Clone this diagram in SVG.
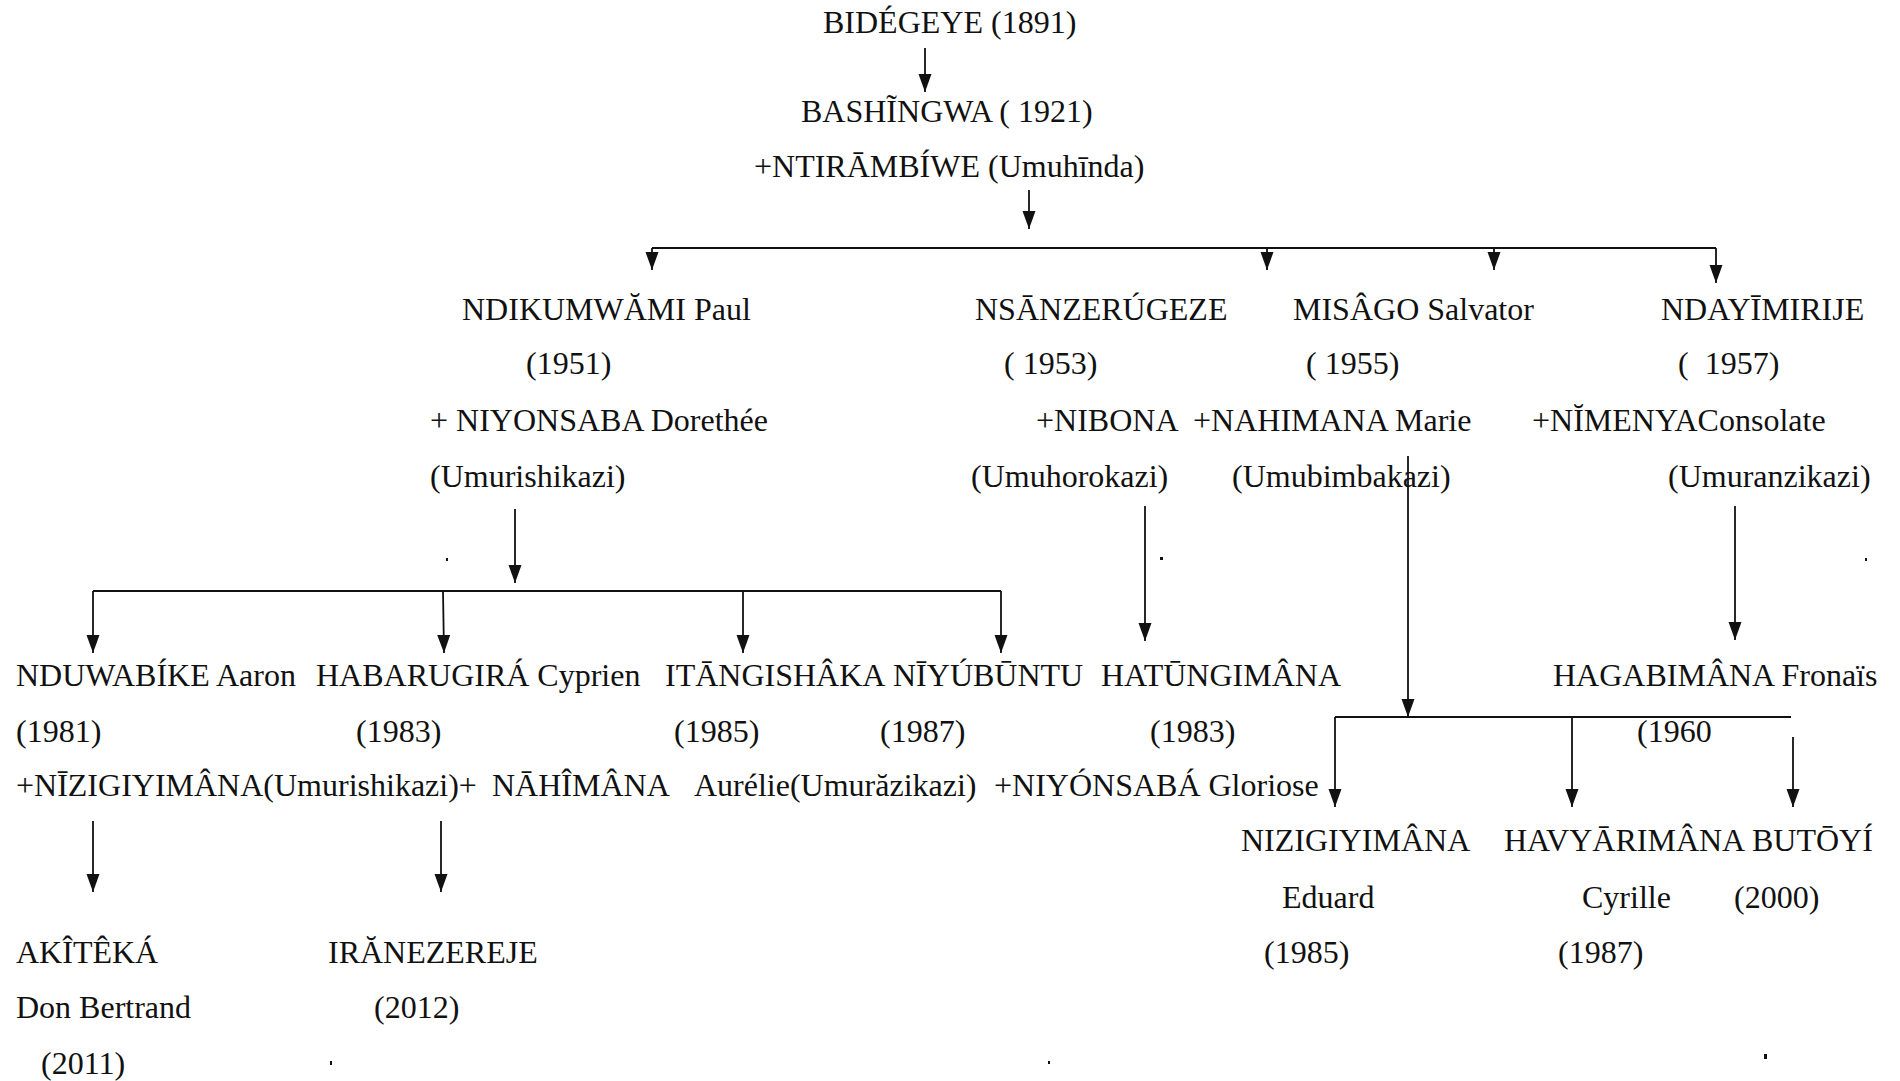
<svg xmlns="http://www.w3.org/2000/svg" width="1900" height="1081" viewBox="0 0 1900 1081">
<style>
text{font-family:"Liberation Serif","Times New Roman",serif;font-size:32px;fill:#111}
.c line{stroke:#111;stroke-width:1.8;fill:none}
.a{marker-end:url(#ah)}
</style>
<defs>
<marker id="ah" markerUnits="userSpaceOnUse" markerWidth="19" markerHeight="14" refX="18" refY="6.5" orient="auto" viewBox="0 0 19 14">
<path d="M0,0 L18,6.5 L0,13 Z" fill="#111"/>
</marker>
</defs>
<rect width="1900" height="1081" fill="#fff"/>
<g class="c" id="connectors">
<line class="a" x1="925" y1="48" x2="925" y2="92"/>
<line class="a" x1="1029" y1="190" x2="1029" y2="229"/>
<line x1="652" y1="248" x2="1716" y2="248"/>
<line class="a" x1="652" y1="248" x2="652" y2="270"/>
<line class="a" x1="1267" y1="248" x2="1267" y2="270"/>
<line class="a" x1="1494" y1="248" x2="1494" y2="270"/>
<line class="a" x1="1716" y1="248" x2="1716" y2="283"/>
<line class="a" x1="515" y1="509" x2="515" y2="583"/>
<line x1="93" y1="591" x2="1001" y2="591"/>
<line class="a" x1="93" y1="591" x2="93" y2="653"/>
<line class="a" x1="443" y1="591" x2="444" y2="653"/>
<line class="a" x1="743" y1="591" x2="743" y2="653"/>
<line class="a" x1="1001" y1="591" x2="1001" y2="653"/>
<line class="a" x1="1145" y1="506" x2="1145" y2="641"/>
<line class="a" x1="1408" y1="456" x2="1408" y2="717"/>
<line x1="1335" y1="717" x2="1791" y2="717"/>
<line class="a" x1="1335" y1="717" x2="1335" y2="807"/>
<line class="a" x1="1572" y1="717" x2="1572" y2="807"/>
<line class="a" x1="1793" y1="737" x2="1793" y2="807"/>
<line class="a" x1="1735" y1="506" x2="1735" y2="640"/>
<line class="a" x1="93" y1="821" x2="93" y2="892"/>
<line class="a" x1="441" y1="821" x2="441" y2="892"/>
</g>
<g id="n-bidegeye"><text x="823" y="33">BIDÉGEYE (1891)</text></g>
<g id="n-bashingwa"><text x="801" y="122">BASHĨNGWA ( 1921)</text><text x="754" y="177">+NTIRĀMBÍWE (Umuhīnda)</text></g>
<g id="n-ndikumwami"><text x="462" y="320">NDIKUMWĂMI Paul</text><text x="526" y="374">(1951)</text><text x="430" y="431">+ NIYONSABA Dorethée</text><text x="430" y="487">(Umurishikazi)</text></g>
<g id="n-nsanzerugeze"><text x="975" y="320">NSĀNZERÚGEZE</text><text x="1004" y="374">( 1953)</text><text x="1036" y="431">+NIBONA</text><text x="971" y="487">(Umuhorokazi)</text></g>
<g id="n-misago"><text x="1293" y="320">MISÂGO Salvator</text><text x="1306" y="374">( 1955)</text><text x="1193" y="431">+NAHIMANA Marie</text><text x="1232" y="487">(Umubimbakazi)</text></g>
<g id="n-ndayimirije"><text x="1661" y="320">NDAYĪMIRIJE</text><text x="1678" y="374" xml:space="preserve">(  1957)</text><text x="1532" y="431">+NĬMENYAConsolate</text><text x="1668" y="487">(Umuranzikazi)</text></g>
<g id="n-nduwabike"><text x="16" y="686">NDUWABÍKE Aaron</text><text x="16" y="742">(1981)</text><text x="16" y="796">+NĪZIGIYIMÂNA(Umurishikazi)+</text></g>
<g id="n-habarugira"><text x="316" y="686">HABARUGIRÁ Cyprien</text><text x="356" y="742">(1983)</text><text x="492" y="796">NĀHÎMÂNA</text></g>
<g id="n-itangishaka"><text x="665" y="686">ITĀNGISHÂKA</text><text x="674" y="742">(1985)</text><text x="694" y="796">Aurélie(Umurăzikazi)</text></g>
<g id="n-niyubuntu"><text x="893" y="686">NĪYÚBŪNTU</text><text x="880" y="742">(1987)</text></g>
<g id="n-hatungimana"><text x="1101" y="686">HATŪNGIMÂNA</text><text x="1150" y="742">(1983)</text><text x="994" y="796">+NIYÓNSABÁ Gloriose</text></g>
<g id="n-hagabimana"><text x="1553" y="686">HAGABIMÂNA Fronaïs</text><text x="1637" y="742">(1960</text></g>
<g id="n-nizigiyimana"><text x="1241" y="851">NIZIGIYIMÂNA</text><text x="1282" y="908">Eduard</text><text x="1264" y="963">(1985)</text></g>
<g id="n-havyarimana"><text x="1504" y="851">HAVYĀRIMÂNA</text><text x="1582" y="908">Cyrille</text><text x="1558" y="963">(1987)</text></g>
<g id="n-butoyi"><text x="1752" y="851">BUTŌYÍ</text><text x="1734" y="908">(2000)</text></g>
<g id="n-akiteka"><text x="16" y="963">AKÎTÊKÁ</text><text x="16" y="1018">Don Bertrand</text><text x="41" y="1074">(2011)</text></g>
<g id="n-iranezereje"><text x="328" y="963">IRĂNEZEREJE</text><text x="374" y="1018">(2012)</text></g>
<g id="specks" fill="#111">
<rect x="446" y="558" width="2" height="3"/>
<rect x="1160" y="557" width="3" height="3"/>
<rect x="1865" y="558" width="2" height="3"/>
<rect x="330" y="1061" width="2" height="4"/>
<rect x="1048" y="1061" width="2" height="3"/>
<rect x="1764" y="1054" width="3" height="5"/>
</g>
</svg>
